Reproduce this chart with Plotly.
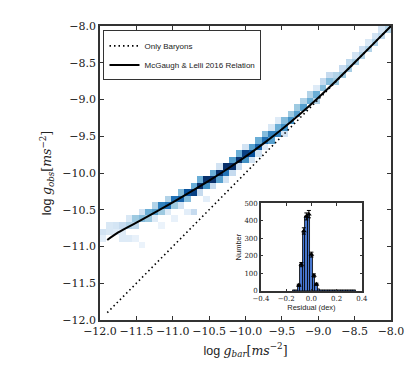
import plotly.graph_objs as go
import plotly.colors as pc

# 2d histogram of (log g_bar, log g_obs), bins of 4/45 dex starting at -12
bin_w = 4.0 / 45
hist_col = [0, 0, 1, 1, 2, 2, 3, 3, 3, 4, 4, 4, 5, 5, 5, 6, 6, 6, 7, 7,
            8, 8, 8, 9, 9, 9, 10, 10, 10, 11, 11, 11, 12, 12, 12, 13, 13, 13,
            14, 14, 14, 15, 15, 15, 16, 16, 16, 17, 17, 17, 18, 18, 18,
            19, 19, 19, 20, 20, 20, 21, 21, 21, 22, 22, 22, 23, 23, 23,
            24, 24, 24, 25, 25, 25, 26, 26, 26, 27, 27, 27, 28, 28, 28,
            29, 29, 30, 30, 31, 31, 32, 32, 33, 33, 33, 34, 34, 35, 35,
            36, 36, 37, 37, 38, 38, 39, 39, 40, 40, 41, 41, 42, 42, 43, 43, 44]
hist_row = [13, 12, 14, 13, 14, 13, 14, 13, 12, 14, 15, 12, 15, 14, 12, 15, 16, 11, 16, 15,
            16, 17, 15, 17, 16, 14, 17, 18, 16, 18, 17, 15, 18, 19, 17, 19, 18, 16,
            19, 20, 16, 20, 21, 19, 21, 20, 18, 21, 22, 20, 22, 21, 23,
            23, 22, 21, 23, 24, 22, 24, 25, 23, 25, 24, 26, 25, 26, 24,
            26, 27, 25, 27, 28, 26, 28, 27, 29, 28, 29, 30, 29, 30, 28,
            30, 31, 31, 32, 32, 33, 33, 34, 34, 33, 35, 35, 36, 36, 37,
            36, 37, 37, 38, 38, 39, 39, 40, 40, 41, 41, 42, 42, 43, 43, 44, 44]
hist_n = [15, 8, 12, 12, 14, 10, 20, 10, 10, 25, 12, 10, 30, 22, 6, 35, 15, 5, 40, 30,
          45, 25, 10, 55, 30, 5, 60, 25, 10, 60, 30, 6, 65, 35, 15, 70, 35, 8,
          75, 40, 20, 85, 40, 20, 90, 50, 8, 95, 40, 20, 100, 45, 15,
          95, 60, 15, 90, 45, 20, 85, 40, 20, 75, 50, 15, 70, 45, 15,
          65, 40, 15, 60, 35, 10, 55, 45, 12, 55, 40, 10, 50, 35, 15,
          50, 30, 45, 30, 45, 25, 40, 25, 40, 25, 10, 35, 20, 35, 20,
          30, 25, 30, 20, 28, 22, 28, 15, 25, 18, 25, 12, 25, 15, 22, 15, 25]

# McGaugh & Lelli 2016 relation
rel_x = [-11.9, -11.75, -11.5, -11.25, -11.0, -10.75, -10.5, -10.25, -10.0,
         -9.75, -9.5, -9.25, -9.0, -8.75, -8.5, -8.25, -8.0]
rel_y = [-10.912, -10.809, -10.675, -10.539, -10.399, -10.254, -10.104, -9.945, -9.777,
         -9.597, -9.405, -9.197, -8.975, -8.741, -8.497, -8.250, -8.0]

# only baryons (1:1)
bar_x = [-11.9, -8.0]
bar_y = [-11.9, -8.0]

# residual histogram (inset)
res_x = [-0.14, -0.12, -0.10, -0.08, -0.06, -0.04, -0.02, 0.00, 0.02, 0.04, 0.06,
         0.08, 0.10, 0.12, 0.14, 0.16, 0.18, 0.20, 0.22, 0.24, 0.26, 0.28, 0.30, 0.32, 0.34]
res_n = [1, 4, 32, 150, 342, 425, 438, 207, 88, 38, 8,
         6, 5, 5, 4, 4, 3, 3, 3, 2, 2, 2, 3, 2, 1]
err_x = [-0.10, -0.08, -0.06, -0.04, -0.02, 0.00, 0.02, 0.04]
err_y = [32, 150, 342, 425, 438, 207, 88, 38]
err_e = [6, 12, 18, 20, 21, 14, 9, 6]

nb = 45
z = [[None] * nb for _ in range(nb)]
for c, r, n in zip(hist_col, hist_row, hist_n):
    z[r][c] = n

blues = pc.sequential.Blues
cscale = [[i / (len(blues) - 1), col] for i, col in enumerate(blues)]

serif = "DejaVu Serif"
sans = "Liberation Sans"

heat = go.Heatmap(
    z=z, x0=-12 + bin_w / 2, dx=bin_w, y0=-12 + bin_w / 2, dy=bin_w,
    colorscale=cscale, zmin=0, zmax=80, showscale=False, hoverinfo="skip",
    xaxis="x", yaxis="y",
)
baryons = go.Scatter(
    x=bar_x, y=bar_y, mode="lines", name="Only Baryons",
    line=dict(color="black", width=1.6, dash="1.5px,3px"),
)
relation = go.Scatter(
    x=rel_x, y=rel_y, mode="lines", name="McGaugh & Lelli 2016 Relation",
    line=dict(color="black", width=2, shape="spline"),
)
bars = go.Bar(
    x=res_x, y=res_n, width=0.02, xaxis="x2", yaxis="y2", showlegend=False,
    marker=dict(color="#4878d0", line=dict(color="black", width=0.8)),
)
errs = go.Scatter(
    x=err_x, y=err_y, mode="markers", xaxis="x2", yaxis="y2", showlegend=False,
    marker=dict(symbol="triangle-up", color="black", size=5),
    error_y=dict(type="data", array=err_e, color="black", thickness=1, width=2),
)

axis_common = dict(
    showgrid=False, zeroline=False, showline=True, linecolor="#333", linewidth=1.5,
    mirror="ticks", ticks="inside", ticklen=4, tickcolor="#333", tickangle=0,
    tickfont=dict(family=serif, size=11, color="#222"),
)

# the page body adds an 8px margin, so the figure is 8px smaller than the window
layout = go.Layout(
    width=408, height=360,
    margin=dict(l=92, r=25, t=16, b=42),
    paper_bgcolor="white", plot_bgcolor="white",
    showlegend=True,
    legend=dict(
        x=0.012, y=0.985, xanchor="left", yanchor="top",
        bgcolor="white", bordercolor="#333", borderwidth=1,
        font=dict(family=sans, size=8, color="#222"),
        tracegroupgap=0, itemwidth=30,
    ),
    xaxis=dict(
        axis_common, range=[-12, -8], dtick=0.5, tick0=-12, tickformat=".1f",
        title=dict(
            text="log <span style='font-family:DejaVu Serif'><i>g</i><sub><i>bar</i></sub>[<i>ms</i><sup>−2</sup>]</span>",
            font=dict(family=sans, size=12.5, color="#222"), standoff=9,
        ),
    ),
    yaxis=dict(
        axis_common, range=[-12, -8], dtick=0.5, tick0=-12, tickformat=".1f",
        title=dict(
            text="log <span style='font-family:DejaVu Serif'><i>g</i><sub><i>obs</i></sub>[<i>ms</i><sup>−2</sup>]</span>",
            font=dict(family=sans, size=12.5, color="#222"), standoff=8,
        ),
    ),
    xaxis2=dict(
        axis_common, domain=[0.553, 0.900], anchor="y2", range=[-0.4, 0.4],
        dtick=0.2, tickformat=".1f", ticklen=2.5,
        tickfont=dict(family=serif, size=7, color="#222"),
        title=dict(text="Residual (dex)", font=dict(family=sans, size=7.5, color="#222"),
                   standoff=2),
    ),
    yaxis2=dict(
        axis_common, domain=[0.099, 0.397], anchor="x2", range=[0, 500],
        dtick=100, ticklen=2.5,
        tickfont=dict(family=serif, size=7, color="#222"),
        title=dict(text="Number", font=dict(family=sans, size=7.5, color="#222"),
                   standoff=2),
    ),
    bargap=0,
)

fig = go.Figure(data=[heat, baryons, relation, bars, errs], layout=layout)
fig.write_html("out.html")
